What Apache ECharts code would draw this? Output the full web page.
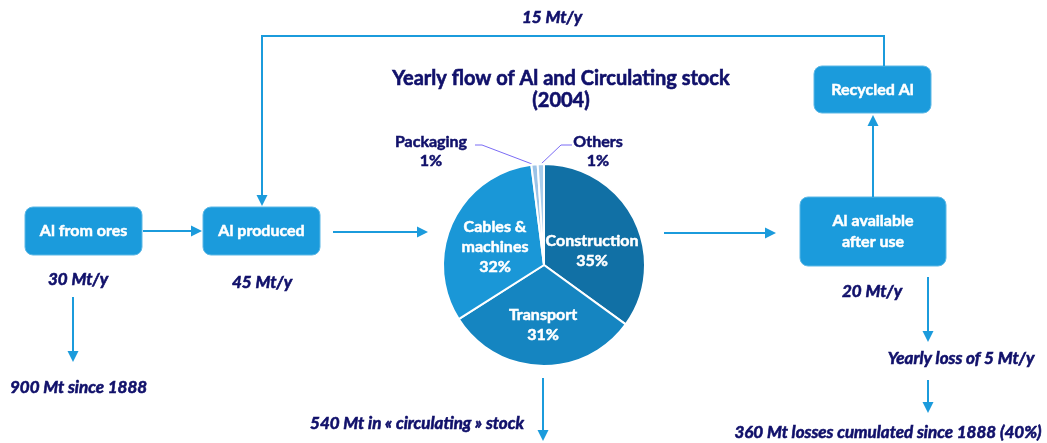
<!DOCTYPE html>
<html>
<head>
<meta charset="utf-8">
<script src="https://cdn.jsdelivr.net/npm/echarts@6/dist/echarts.min.js"></script>
<style>
  html, body { margin: 0; padding: 0; background: #fff; }
  #chart { width: 1047px; height: 443px; }
</style>
</head>
<body>
<div id="chart"></div>
<script>
// pie data: end uses of aluminium (2004)
const categories = ['Construction', 'Transport', 'Cables &\nmachines', 'Packaging', 'Others']
const shares = [35, 31, 32, 1, 1]
const sliceColors = ['#1170a5', '#1585c1', '#1a97d7', '#9cc3e7', '#a9cdec']

// flow diagram texts
const boxNames = ['Al from ores', 'Al produced', 'Recycled Al', 'Al available\nafter use']
const flowNotes = ['30 Mt/y', '45 Mt/y', '15 Mt/y', '20 Mt/y', 'Yearly loss of 5 Mt/y']
const stockNotes = ['900 Mt since 1888', '540 Mt in « circulating » stock', '360 Mt losses cumulated since 1888 (40%)']

const BLUE = '#1b9bdc'
const NAVY = '#10106a'
const FONT = 'Lato, "Open Sans", sans-serif'

// line with a triangle head at the last point
function arrow (pts) {
  const n = pts.length
  const [x1, y1] = pts[n - 2]
  const [x2, y2] = pts[n - 1]
  const len = Math.hypot(x2 - x1, y2 - y1)
  const ux = (x2 - x1) / len
  const uy = (y2 - y1) / len
  const h = 11
  const w = 5.5
  const bx = x2 - ux * h
  const by = y2 - uy * h
  const linePts = pts.slice(0, n - 1).concat([[bx, by]])
  return {
    type: 'group',
    children: [
      { type: 'polyline', shape: { points: linePts }, style: { stroke: BLUE, lineWidth: 2, fill: null } },
      { type: 'polygon', shape: { points: [[x2, y2], [bx - uy * w, by + ux * w], [bx + uy * w, by - ux * w]] }, style: { fill: BLUE } }
    ]
  }
}

function box (x, y, w, h, text) {
  return {
    type: 'group',
    children: [
      { type: 'rect', shape: { x: x, y: y, width: w, height: h, r: 8 }, style: { fill: BLUE, stroke: '#5cb8e6', lineWidth: 1 } },
      {
        type: 'text',
        x: x + w / 2,
        y: y + h / 2,
        style: { text: text, fill: '#fff', stroke: '#fff', lineWidth: 0.5, font: 'bold 16px ' + FONT, align: 'center', verticalAlign: 'middle', lineHeight: 21 }
      }
    ]
  }
}

function note (x, y, text, align) {
  return {
    type: 'text',
    x: x,
    y: y,
    style: { text: text, fill: NAVY, stroke: NAVY, lineWidth: 0.6, font: 'italic bold 17px ' + FONT, align: align || 'center', verticalAlign: 'middle' }
  }
}

const graphics = [
  box(25, 207, 117, 48, boxNames[0]),
  box(203, 207, 117, 48, boxNames[1]),
  box(814, 66, 117, 47, boxNames[2]),
  box(800, 197, 146, 69, boxNames[3]),

  arrow([[143, 231], [202, 231]]),
  arrow([[333, 232], [428, 232]]),
  arrow([[664, 233], [776, 233]]),
  arrow([[873, 197], [873, 115]]),
  arrow([[884, 66], [884, 36], [262, 36], [262, 206]]),
  arrow([[73, 297], [73, 362]]),
  arrow([[543, 378], [543, 441]]),
  arrow([[928, 277], [928, 342]]),
  arrow([[928, 380], [928, 413]]),

  note(78, 280, flowNotes[0]),
  note(262, 283, flowNotes[1]),
  note(552, 18, flowNotes[2]),
  note(872, 292, flowNotes[3]),
  note(961, 359, flowNotes[4]),
  note(10, 388, stockNotes[0], 'left'),
  note(417, 424, stockNotes[1]),
  note(888, 433, stockNotes[2]),

  {
    type: 'text',
    x: 561,
    y: 90,
    style: {
      text: 'Yearly flow of Al and Circulating stock\n(2004)',
      fill: NAVY,
      stroke: NAVY,
      lineWidth: 0.6,
      font: 'bold 20px ' + FONT,
      align: 'center',
      verticalAlign: 'middle',
      lineHeight: 22
    }
  }
]

// label anchor spots (label placement only)
const labelSpots = [[592, 251], [543, 325], [495, 247], [431, 151], [598, 151]]
const leaderPaths = {
  3: [[532, 164], [482, 145], [475, 145]],
  4: [[541, 164], [561, 145], [572, 145]]
}

const pieData = categories.map(function (name, i) {
  const small = shares[i] < 5
  return {
    name: name,
    value: shares[i],
    itemStyle: { color: sliceColors[i] },
    label: small
      ? { position: 'outside', color: NAVY, fontSize: 16, fontWeight: 'bold', lineHeight: 19, textBorderColor: NAVY, textBorderWidth: 0.5 }
      : { position: 'inner', color: '#fff', fontSize: 16, fontWeight: 'bold', lineHeight: 20, textBorderColor: '#fff', textBorderWidth: 0.5 },
    labelLine: { show: small, lineStyle: { color: '#7b6cf5', width: 1 } }
  }
})

const chart = echarts.init(document.getElementById('chart'))
chart.setOption({
  backgroundColor: '#fff',
  animation: false,
  textStyle: { fontFamily: FONT },
  graphic: graphics,
  series: [{
    type: 'pie',
    center: [544, 265],
    radius: 101,
    startAngle: 90,
    clockwise: true,
    itemStyle: { borderColor: '#fff', borderWidth: 2 },
    label: { formatter: '{b}\n{c}%' },
    labelLayout: function (params) {
      const spot = labelSpots[params.dataIndex]
      const out = { x: spot[0], y: spot[1], align: 'center', verticalAlign: 'middle' }
      if (leaderPaths[params.dataIndex]) out.labelLinePoints = leaderPaths[params.dataIndex]
      return out
    },
    data: pieData
  }]
})
</script>
</body>
</html>
